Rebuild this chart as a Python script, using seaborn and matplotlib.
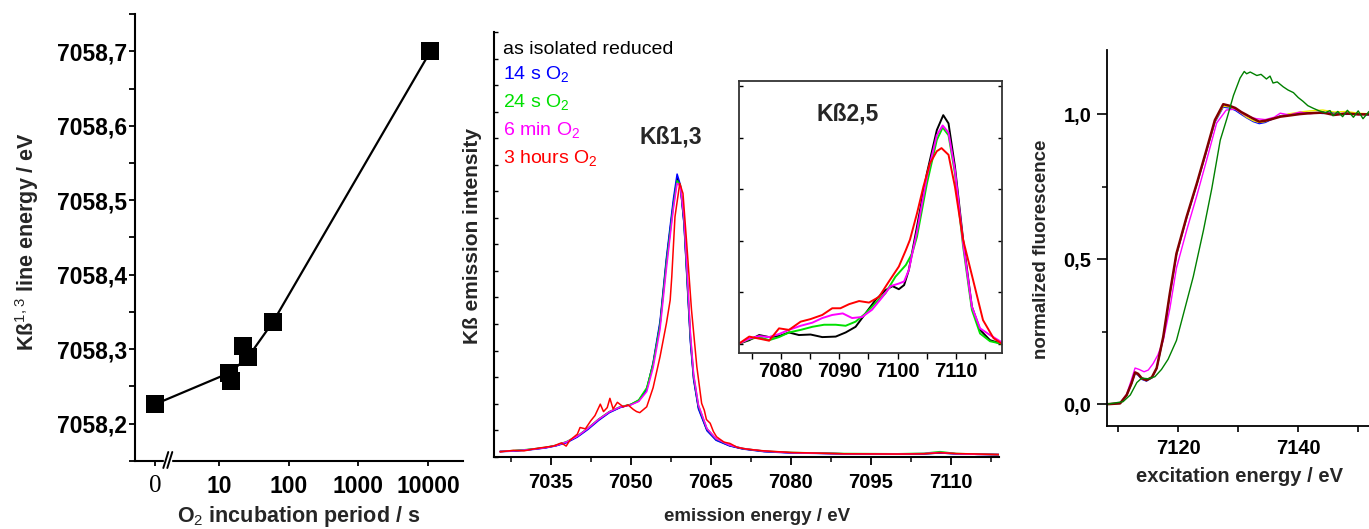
"""
Fe K-beta / XANES figure: line energy vs O2 exposure, K-beta emission spectra
with K-beta 2,5 inset, and normalized XANES edges.
"""
import matplotlib
matplotlib.use("Agg")
import matplotlib.pyplot as plt
import numpy as np
import seaborn as sns
from matplotlib import font_manager
from matplotlib.patches import Rectangle
from matplotlib.ticker import FixedLocator, LogLocator, MultipleLocator, NullFormatter

# ---- panel 1: K-beta 1,3 line energy vs incubation time ("0" drawn at 1.21 on the broken log axis)
incubation_s = [1.21, 14, 15, 22, 26, 60, 10800]
kb13_energy = [7058.226, 7058.268, 7058.257, 7058.304, 7058.289, 7058.337, 7058.700]
trend_s = [1.21, 14, 26, 60, 10800]
trend_energy = [7058.226, 7058.268, 7058.289, 7058.337, 7058.700]
p1_xticks = [1.21, 10, 100, 1000, 10000]
p1_xlabels = ["0", "10", "100", "1000", "10000"]
p1_yticks = [7058.2, 7058.3, 7058.4, 7058.5, 7058.6, 7058.7]

# ---- panel 2: K-beta emission spectra (arbitrary units)
kb_energy = [7025.5, 7028, 7030, 7032, 7034, 7036, 7038, 7040, 7042, 7044, 7046, 7048, 7050,
             7051.5, 7053, 7054.2, 7055.5, 7056.7, 7058.0, 7058.7, 7059.3, 7060, 7060.6, 7061.2,
             7061.8, 7062.7, 7064.3, 7066, 7068.5, 7071, 7075, 7080, 7090, 7100, 7105, 7108,
             7111, 7115, 7119]
kb_reduced = [0.20, 0.22, 0.25, 0.29, 0.34, 0.42, 0.55, 0.76, 1.06, 1.40, 1.68, 1.86, 1.96,
              2.12, 2.55, 3.50, 5.00, 7.40, 9.55, 10.50, 10.20, 8.80, 6.60, 4.40,
              2.95, 1.85, 1.00, 0.64, 0.42, 0.30, 0.20, 0.15, 0.11, 0.10, 0.11, 0.14,
              0.11, 0.09, 0.08]
kb_14s = [0.19, 0.21, 0.24, 0.28, 0.33, 0.41, 0.53, 0.74, 1.03, 1.37, 1.66, 1.85, 1.97,
          2.10, 2.52, 3.55, 5.10, 7.50, 9.70, 10.65, 10.25, 8.75, 6.50, 4.30,
          2.90, 1.80, 0.98, 0.62, 0.41, 0.29, 0.19, 0.14, 0.11, 0.10, 0.11, 0.14,
          0.11, 0.09, 0.08]
kb_24s = [0.20, 0.23, 0.26, 0.30, 0.35, 0.43, 0.57, 0.78, 1.08, 1.42, 1.70, 1.88, 1.97,
          2.14, 2.60, 3.50, 4.95, 7.30, 9.45, 10.40, 10.25, 8.95, 6.75, 4.55,
          3.05, 1.92, 1.05, 0.67, 0.44, 0.31, 0.21, 0.16, 0.12, 0.11, 0.13, 0.19,
          0.12, 0.10, 0.08]
kb_6min = [0.20, 0.22, 0.25, 0.29, 0.34, 0.42, 0.56, 0.77, 1.07, 1.41, 1.69, 1.87, 1.95,
           2.08, 2.45, 3.35, 4.80, 7.10, 9.35, 10.30, 10.20, 9.00, 6.90, 4.65,
           3.10, 1.95, 1.06, 0.68, 0.44, 0.31, 0.21, 0.15, 0.11, 0.10, 0.12, 0.16,
           0.11, 0.09, 0.08]
kb_red_energy = [7025.5, 7028, 7030, 7032, 7034, 7035.5, 7037, 7037.9, 7038.6, 7040, 7040.5,
                 7041.5, 7042.5, 7043.3, 7044.3, 7044.9, 7045.6, 7046.1, 7046.7, 7047.5,
                 7048.6, 7049.5, 7050.5, 7051.1, 7051.7, 7053.0, 7054.2, 7055.5, 7056.7,
                 7057.4, 7057.7, 7058.3, 7059.2, 7059.8, 7060.5, 7061.4, 7062.4, 7063.3,
                 7063.8, 7064.2, 7064.9, 7065.5, 7066.1, 7067.0, 7067.5, 7068.6, 7070, 7072,
                 7075, 7080, 7090, 7100, 7105, 7108, 7111, 7115, 7119]
kb_3h = [0.18, 0.24, 0.22, 0.30, 0.36, 0.40, 0.52, 0.40, 0.62, 0.85, 1.10,
         1.05, 1.35, 1.55, 1.98, 1.70, 1.85, 2.20, 1.80, 2.05,
         1.88, 1.95, 1.78, 1.70, 1.66, 1.88, 2.60, 3.77, 5.03,
         5.90, 6.78, 9.04, 10.30, 9.92, 8.04, 5.53, 3.39, 2.01,
         1.75, 1.40, 1.26, 0.95, 0.75, 0.62, 0.55, 0.50, 0.35, 0.28,
         0.22, 0.16, 0.11, 0.10, 0.11, 0.15, 0.12, 0.10, 0.08]

# ---- inset: K-beta 2,5 region
ins_reduced_e = [7072.8, 7074.6, 7076.3, 7078.0, 7079.7, 7081.4, 7083.1, 7085.1, 7087.1, 7089.4,
                 7091.1, 7092.8, 7094.5, 7096.2, 7097.9, 7099.1, 7100.2, 7101.1, 7101.9, 7103.3,
                 7105.0, 7106.7, 7107.8, 7108.7, 7109.8, 7111.2, 7112.7, 7114.1, 7115.8, 7117.8]
ins_reduced = [0.0, 0.07, 0.17, 0.13, 0.15, 0.22, 0.17, 0.18, 0.13, 0.14,
               0.22, 0.33, 0.59, 0.85, 1.04, 1.12, 1.06, 1.14, 1.43, 2.27,
               3.31, 4.15, 4.44, 4.28, 3.44, 2.02, 0.72, 0.27, 0.07, 0.0]
ins_24s_e = [7072.8, 7074.6, 7076.3, 7078.0, 7079.7, 7081.4, 7083.4, 7085.4, 7087.4, 7089.4,
             7091.1, 7092.8, 7094.5, 7096.2, 7097.9, 7099.6, 7101.4, 7102.5, 7103.3, 7105.0,
             7106.7, 7107.7, 7108.7, 7109.8, 7111.2, 7112.7, 7114.1, 7115.8, 7117.8]
ins_24s = [0.0, 0.09, 0.13, 0.07, 0.13, 0.22, 0.27, 0.33, 0.37, 0.37,
           0.35, 0.43, 0.59, 0.79, 0.98, 1.30, 1.53, 1.76, 2.08, 3.11,
           3.96, 4.20, 4.05, 3.31, 1.89, 0.66, 0.20, 0.05, 0.0]
ins_6min_e = [7072.8, 7074.6, 7076.3, 7078.0, 7079.7, 7081.4, 7083.4, 7085.4, 7087.1, 7088.8,
              7090.6, 7092.2, 7093.9, 7095.6, 7097.4, 7098.8, 7100.2, 7101.1, 7101.9, 7103.3,
              7105.0, 7106.7, 7107.7, 7108.7, 7109.8, 7111.2, 7112.7, 7114.1, 7115.8, 7117.8]
ins_6min = [0.0, 0.10, 0.15, 0.13, 0.19, 0.27, 0.35, 0.41, 0.50, 0.56,
            0.59, 0.50, 0.52, 0.66, 0.91, 1.12, 1.17, 1.21, 1.43, 2.18,
            3.24, 4.05, 4.24, 4.10, 3.37, 1.95, 0.72, 0.30, 0.17, 0.03]
ins_3h_e = [7072.8, 7074.6, 7076.3, 7078.0, 7079.7, 7081.4, 7083.4, 7085.1, 7087.1, 7088.8,
            7090.2, 7091.7, 7093.4, 7095.1, 7096.8, 7098.5, 7100.2, 7101.4, 7102.1, 7103.3,
            7104.4, 7105.5, 7106.7, 7107.5, 7108.7, 7109.8, 7111.2, 7112.9, 7114.6, 7116.4,
            7117.8]
ins_3h = [0.0, 0.14, 0.10, 0.06, 0.30, 0.27, 0.43, 0.48, 0.56, 0.69,
          0.69, 0.77, 0.83, 0.80, 0.91, 1.21, 1.50, 1.82, 2.02, 2.53,
          3.05, 3.50, 3.74, 3.80, 3.67, 3.05, 2.02, 1.24, 0.46, 0.11,
          0.0]

# ---- panel 3: normalized XANES
xanes_e = [7108.0, 7110.3, 7111.4, 7112.2, 7112.8, 7113.3, 7113.9, 7114.7, 7115.6, 7116.4,
           7117.5, 7118.6, 7119.7, 7121.4, 7123.1, 7124.7, 7126.1, 7127.5, 7128.5, 7129.5,
           7130.5, 7131.4, 7132.5, 7133.5, 7134.5, 7135.5, 7137.0, 7138.5, 7140.3, 7142.0,
           7144.1, 7146.0, 7148.0, 7150.0, 7151.8]
xanes_maroon = [0.0, 0.003, 0.032, 0.072, 0.110, 0.105, 0.090, 0.083, 0.093, 0.125,
                0.233, 0.383, 0.520, 0.647, 0.762, 0.877, 0.980, 1.035, 1.030, 1.022,
                1.008, 0.998, 0.985, 0.975, 0.978, 0.983, 0.992, 0.996, 1.001, 1.004,
                1.006, 0.998, 1.003, 1.000, 1.000]
xanes_blue = [0.0, 0.003, 0.030, 0.070, 0.107, 0.100, 0.086, 0.080, 0.091, 0.122,
              0.228, 0.378, 0.515, 0.643, 0.758, 0.872, 0.972, 1.025, 1.022, 1.014,
              1.000, 0.988, 0.975, 0.968, 0.972, 0.982, 0.995, 1.000, 1.004, 1.006,
              1.003, 1.006, 1.000, 1.002, 0.998]
xanes_yellow = [0.0, 0.003, 0.031, 0.071, 0.108, 0.103, 0.088, 0.082, 0.092, 0.124,
                0.230, 0.380, 0.517, 0.645, 0.760, 0.874, 0.975, 1.028, 1.026, 1.018,
                1.004, 0.990, 0.978, 0.972, 0.975, 0.985, 0.993, 1.002, 1.008, 1.012,
                1.015, 1.008, 1.010, 1.004, 1.002]
xanes_magenta_e = [7108.0, 7110.3, 7111.4, 7112.2, 7112.8, 7113.5, 7114.3, 7115.0, 7115.8,
                   7116.6, 7117.5, 7118.6, 7119.7, 7121.4, 7123.1, 7124.7, 7126.4, 7128.0,
                   7129.5, 7131.4, 7133.0, 7134.5, 7136.0, 7137.0, 7138.5, 7140.3, 7142.0,
                   7144.1, 7146.0, 7148.0, 7150.0, 7151.8]
xanes_magenta = [0.0, 0.004, 0.035, 0.085, 0.125, 0.120, 0.112, 0.118, 0.140,
                 0.170, 0.220, 0.330, 0.470, 0.600, 0.720, 0.840, 0.970, 1.015,
                 1.018, 0.995, 0.985, 0.982, 0.990, 1.004, 0.998, 1.008, 1.002,
                 1.008, 1.000, 1.004, 0.999, 1.000]
xanes_green_e = [7108.0, 7110.8, 7112.0, 7113.1, 7113.9, 7115.0, 7116.1, 7117.2, 7118.3, 7119.7,
                 7121.1, 7122.5, 7124.2, 7125.6, 7127.0, 7128.1, 7129.2, 7130.3, 7131.0, 7131.4,
                 7132.0, 7133.1, 7133.8, 7134.7, 7135.3, 7135.8, 7136.5, 7137.5, 7138.3, 7139.2,
                 7140.0, 7140.8, 7141.6, 7142.5, 7143.5, 7144.5, 7145.3, 7145.8, 7146.6, 7147.4,
                 7148.2, 7149.2, 7150.0, 7150.8, 7151.8]
xanes_green = [0.0, 0.009, 0.032, 0.075, 0.090, 0.088, 0.095, 0.120, 0.155, 0.220,
               0.330, 0.440, 0.600, 0.745, 0.911, 0.985, 1.065, 1.125, 1.148, 1.140,
               1.146, 1.134, 1.138, 1.122, 1.132, 1.108, 1.112, 1.095, 1.084, 1.075,
               1.058, 1.045, 1.030, 1.021, 1.012, 1.006, 1.013, 0.995, 1.010, 0.992,
               1.014, 0.990, 1.012, 0.985, 1.010]

W, H = 1369, 529


def rect(left, top, right, bottom):
    """Axes rectangle from pixel edges of the 1369x529 canvas."""
    return [left / W, 1 - bottom / H, (right - left) / W, (bottom - top) / H]


def comma(v, fmt="{:.1f}"):
    return fmt.format(v).replace(".", ",")


def place_labels(ax, xy_x, xy_y):
    """Centre both axis labels on the given axes-fraction points."""
    ax.xaxis.set_label_coords(*xy_x)
    ax.yaxis.set_label_coords(*xy_y)
    ax.xaxis.label.set_verticalalignment("center")
    ax.yaxis.label.set_verticalalignment("center")


sns.set_theme(style="ticks")
names = {f.name for f in font_manager.fontManager.ttflist}
NARROW = "Liberation Sans Narrow" if "Liberation Sans Narrow" in names else "Liberation Sans"
HAS_NARROW = NARROW != "Liberation Sans"
plt.rcParams["font.family"] = ["Liberation Sans", "DejaVu Sans"]
plt.rcParams["font.weight"] = "bold"
plt.rcParams["axes.labelweight"] = "bold"
plt.rcParams["mathtext.fontset"] = "custom"
plt.rcParams["mathtext.rm"] = "Liberation Sans:weight=normal"
plt.rcParams["mathtext.bf"] = "Liberation Sans:bold"
plt.rcParams["axes.edgecolor"] = "black"
plt.rcParams["xtick.color"] = "black"
plt.rcParams["ytick.color"] = "black"

fig = plt.figure(figsize=(W / 100, H / 100), dpi=100)

# ================= panel 1 =================
ax1 = fig.add_axes(rect(135, 14.2, 462.7, 460.8))
sns.lineplot(x=trend_s, y=trend_energy, color="black", lw=1.6, ax=ax1,
             estimator=None, sort=False)
sns.scatterplot(x=incubation_s, y=kb13_energy, marker="s", s=185, color="black",
                linewidth=0, ax=ax1, zorder=3)
ax1.set_xscale("log")
ax1.set_xlim(0.624, 31400)
ax1.set_ylim(7058.15, 7058.75)
ax1.xaxis.set_major_locator(FixedLocator(p1_xticks))
ax1.set_xticklabels(p1_xlabels)
ax1.xaxis.set_minor_locator(LogLocator(base=10, subs=np.arange(1, 10)))
ax1.xaxis.set_minor_formatter(NullFormatter())
ax1.set_yticks(p1_yticks)
ax1.set_yticklabels([comma(v) for v in p1_yticks])
ax1.yaxis.set_minor_locator(MultipleLocator(0.05))
ax1.tick_params(axis="y", which="both", direction="out", length=4, width=1.3,
                labelsize=16.5, pad=1.5)
ax1.tick_params(axis="x", which="major", direction="out", length=3.5, width=1.3,
                labelsize=16.5, pad=7)
ax1.tick_params(axis="x", which="minor", direction="out", length=2.5, width=1.0)
zero = ax1.get_xticklabels()[0]
zero.set_fontfamily("Liberation Serif")
zero.set_fontweight("normal")
zero.set_fontsize(18)
sns.despine(ax=ax1)
for s in ("left", "bottom"):
    ax1.spines[s].set_linewidth(1.5)
ax1.set_ylabel(r"Kß$^{1,3}$ line energy / eV", fontsize=15.5)
ax1.set_xlabel(r"O$_2$ incubation period / s", fontsize=15.5)
place_labels(ax1, (0.50, -0.124), (-0.33, 0.492))
# axis break marks
ax1.add_patch(Rectangle((0.089, -0.012), 0.022, 0.024, transform=ax1.transAxes,
                        color="white", clip_on=False, zorder=5))
for x0 in (0.0864, 0.0986):
    ax1.plot([x0, x0 + 0.0152], [-0.0161, 0.0197], color="black", lw=1.4,
             transform=ax1.transAxes, clip_on=False, zorder=6)

# ================= panel 2 =================
ax2 = fig.add_axes(rect(494, 32.1, 999, 456.7))
series = [(kb_energy, kb_reduced, "black"), (kb_energy, kb_14s, "#0000ff"),
          (kb_energy, kb_24s, "#00e000"), (kb_energy, kb_6min, "#ff00ff"),
          (kb_red_energy, kb_3h, "#ff0000")]
for e, v, c in series:
    sns.lineplot(x=e, y=v, color=c, lw=1.1, ax=ax2, estimator=None, sort=False)
ax2.set_xlim(7024.37, 7119.05)
ax2.set_ylim(0, 16)
ax2.xaxis.set_major_locator(MultipleLocator(15))
ax2.xaxis.set_minor_locator(MultipleLocator(7.5))
ax2.yaxis.set_major_locator(MultipleLocator(1))
ax2.set_yticklabels([])
tick_size = 16 if HAS_NARROW else 14.5
ax2.tick_params(axis="x", which="major", direction="out", length=5.5, width=1.3,
                labelsize=tick_size, pad=6)
ax2.tick_params(axis="x", which="minor", direction="out", length=3.5, width=1.1)
ax2.tick_params(axis="y", which="major", direction="in", length=3, width=1.0)
for lab in ax2.get_xticklabels():
    lab.set_fontfamily(NARROW)
sns.despine(ax=ax2)
for s in ("left", "bottom"):
    ax2.spines[s].set_linewidth(1.5)
ax2.set_ylabel("Kß emission intensity", fontsize=16.5 if HAS_NARROW else 15,
               family=NARROW)
ax2.set_xlabel("emission energy / eV", fontsize=15.5 if HAS_NARROW else 13.5,
               family=NARROW)
place_labels(ax2, (0.52, -0.141), (-0.042, 0.52))

legend_texts = ["as isolated reduced", r"14 s O$_2$", r"24 s O$_2$", r"6 min O$_2$",
                r"3 hours O$_2$"]
legend_colors = ["black", "#0000ff", "#00e000", "#ff00ff", "#ff0000"]
legend_y = [0.948, 0.888, 0.822, 0.757, 0.689]
for t, c, y in zip(legend_texts, legend_colors, legend_y):
    ax2.text(0.017, y, t, color=c, fontsize=14, fontweight="normal",
             transform=ax2.transAxes, ha="left", va="baseline")
ax2.text(0.350, 0.737, "Kß1,3", fontsize=16.5, transform=ax2.transAxes,
         ha="center", va="baseline")

# ================= inset =================
ins = fig.add_axes(rect(739.3, 80.7, 1001.7, 352.7))
ins_series = [(ins_reduced_e, ins_reduced, "black"), (ins_24s_e, ins_24s, "#00e000"),
              (ins_6min_e, ins_6min, "#ff00ff"), (ins_3h_e, ins_3h, "#ff0000")]
for e, v, c in ins_series:
    sns.lineplot(x=e, y=v, color=c, lw=1.4, ax=ins, estimator=None, sort=False)
ins.set_xlim(7072.9, 7117.8)
ins.set_ylim(-0.173, 5.109)
ins.xaxis.set_major_locator(MultipleLocator(10))
ins.xaxis.set_minor_locator(MultipleLocator(5))
ins.yaxis.set_major_locator(MultipleLocator(1))
ins.set_yticklabels([])
ins.tick_params(axis="x", which="both", direction="out", length=4, width=1.0,
                top=False, labelsize=tick_size, pad=3)
ins.tick_params(axis="y", which="major", direction="in", length=3, width=1.0,
                left=True, right=True)
for lab in ins.get_xticklabels():
    lab.set_fontfamily(NARROW)
for s in ins.spines.values():
    s.set_linewidth(1.3)
    s.set_color("#333333")
ins.set_xlabel("")
ins.set_ylabel("")
ins.text(0.414, 0.855, "Kß2,5", fontsize=16.5, transform=ins.transAxes,
         ha="center", va="baseline")

# ================= panel 3 =================
ax3 = fig.add_axes(rect(1106.7, 50, 1369, 426))
x_series = [(xanes_e, xanes_blue, "#0000ff", 1.0), (xanes_e, xanes_yellow, "#f0f000", 1.0),
            (xanes_magenta_e, xanes_magenta, "#ff00ff", 1.0),
            (xanes_e, xanes_maroon, "#800000", 1.8),
            (xanes_green_e, xanes_green, "#008000", 1.0)]
for e, v, c, lw in x_series:
    sns.lineplot(x=e, y=v, color=c, lw=lw, ax=ax3, estimator=None, sort=False)
ax3.set_xlim(7108.07, 7151.8)
ax3.set_ylim(-0.075, 1.222)
ax3.xaxis.set_major_locator(MultipleLocator(20))
ax3.xaxis.set_minor_locator(MultipleLocator(10))
p3_yticks = [0.0, 0.5, 1.0]
ax3.set_yticks(p3_yticks)
ax3.set_yticklabels([comma(v) for v in p3_yticks])
ax3.yaxis.set_minor_locator(MultipleLocator(0.25))
ax3.tick_params(axis="y", which="major", direction="out", length=7, width=1.2,
                labelsize=14.5, pad=4)
ax3.tick_params(axis="y", which="minor", direction="out", length=3.5, width=1.1)
ax3.tick_params(axis="x", which="both", direction="out", length=4, width=1.2,
                labelsize=14.5, pad=5)
sns.despine(ax=ax3)
for s in ("left", "bottom"):
    ax3.spines[s].set_linewidth(1.3)
ax3.set_ylabel("normalized fluorescence", fontsize=13.5)
ax3.set_xlabel("excitation energy / eV", fontsize=14.5)
place_labels(ax3, (0.508, -0.133), (-0.248, 0.47))

fig.savefig("out.png", dpi=100)
